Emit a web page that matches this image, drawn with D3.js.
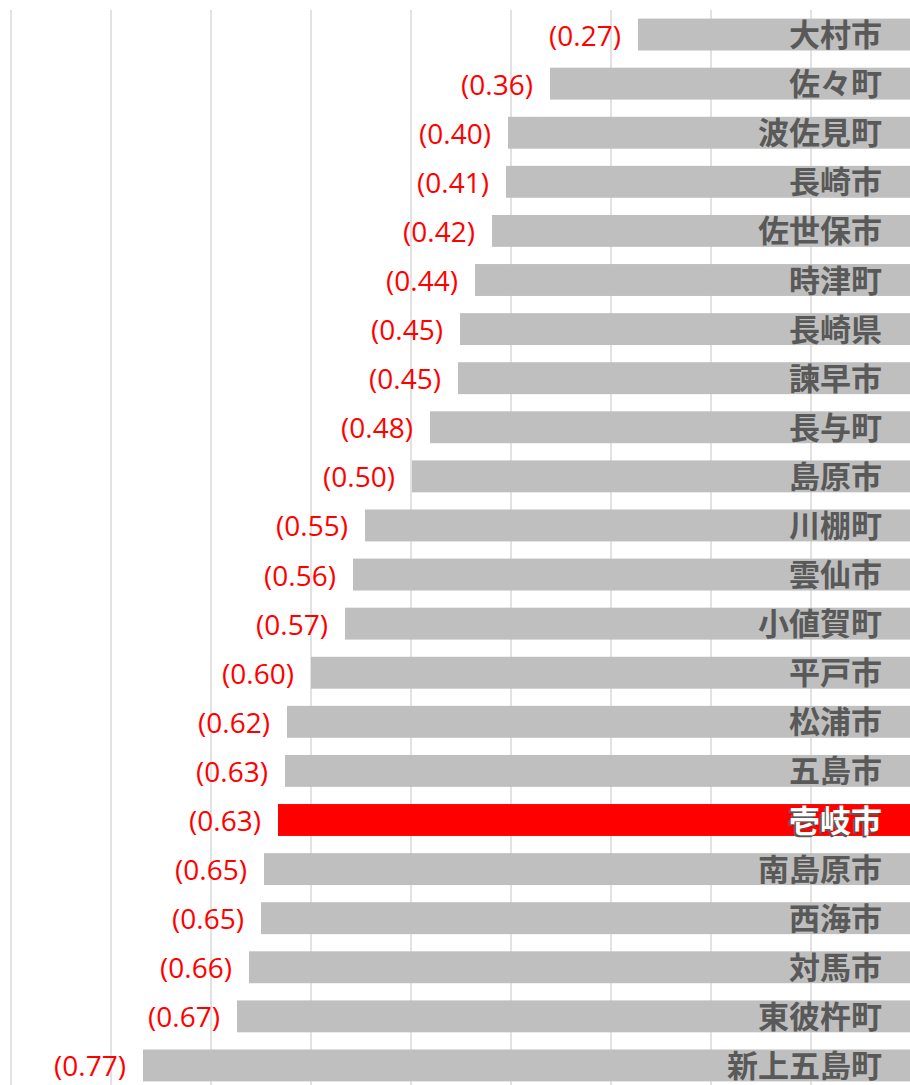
<!DOCTYPE html>
<html>
<head>
<meta charset="utf-8">
<script src="https://cdn.jsdelivr.net/npm/d3@7"></script>
<style>
  body { margin: 0; background: #fff; }
  svg { display: block; }
</style>
</head>
<body>
<svg id="chart"></svg>
<script>
// municipalities, top to bottom
const names = ["大村市", "佐々町", "波佐見町", "長崎市", "佐世保市", "時津町", "長崎県", "諫早市", "長与町", "島原市",
    "川棚町", "雲仙市", "小値賀町", "平戸市", "松浦市", "五島市", "壱岐市", "南島原市", "西海市", "対馬市", "東彼杵町", "新上五島町"];
const values = [-0.273, -0.361, -0.403, -0.405, -0.419, -0.436, -0.451, -0.453, -0.481, -0.499,
    -0.546, -0.558, -0.566, -0.600, -0.624, -0.626, -0.633, -0.647, -0.650, -0.662, -0.674, -0.768];
const highlight = "壱岐市";
const gridTicks = [-0.9, -0.8, -0.7, -0.6, -0.5, -0.4, -0.3, -0.2, -0.1];

const width = 910, height = 1085;

const svg = d3.select("#chart")
    .attr("width", width)
    .attr("height", height);

const x = d3.scaleLinear()
    .domain([-0.9, 0])
    .range([11, 911]);

const y = d3.scaleBand()
    .domain(names)
    .range([10, 1090])
    .paddingInner(0.35)
    .paddingOuter(0.175);

// vertical gridlines
svg.append("g")
    .selectAll("line")
    .data(gridTicks)
    .join("line")
      .attr("x1", d => x(d))
      .attr("x2", d => x(d))
      .attr("y1", 10)
      .attr("y2", height)
      .attr("stroke", "#d9d9d9")
      .attr("stroke-width", 1.5);

const data = names.map((n, i) => ({name: n, value: values[i]}));

const row = svg.append("g")
    .selectAll("g")
    .data(data)
    .join("g");

row.append("rect")
    .attr("x", d => x(d.value))
    .attr("y", d => y(d.name))
    .attr("width", d => x(0) - x(d.value))
    .attr("height", y.bandwidth())
    .attr("fill", d => d.name === highlight ? "#ff0000" : "#bfbfbf");

// value labels, red, in brackets
row.append("text")
    .attr("x", d => x(d.value) - 17)
    .attr("y", d => y(d.name) + y.bandwidth() / 2)
    .attr("text-anchor", "end")
    .attr("dominant-baseline", "central")
    .attr("font-family", "'Open Sans', sans-serif")
    .attr("font-size", 28)
    .attr("fill", "#ff0000")
    .text(d => "(" + d3.format(".2f")(-d.value) + ")");

// shadow for highlighted name
row.filter(d => d.name === highlight)
  .append("text")
    .attr("x", 880)
    .attr("y", d => y(d.name) + y.bandwidth() / 2)
    .attr("text-anchor", "end")
    .attr("dominant-baseline", "central")
    .attr("font-family", "'Noto Sans CJK JP', sans-serif")
    .attr("font-weight", "bold")
    .attr("font-size", 31)
    .attr("fill", "#595959")
    .text(d => d.name);

row.append("text")
    .attr("x", 882)
    .attr("y", d => y(d.name) + y.bandwidth() / 2 - 2)
    .attr("text-anchor", "end")
    .attr("dominant-baseline", "central")
    .attr("font-family", "'Noto Sans CJK JP', sans-serif")
    .attr("font-weight", "bold")
    .attr("font-size", 31)
    .attr("fill", d => d.name === highlight ? "#ffffff" : "#595959")
    .text(d => d.name);
</script>
</body>
</html>
